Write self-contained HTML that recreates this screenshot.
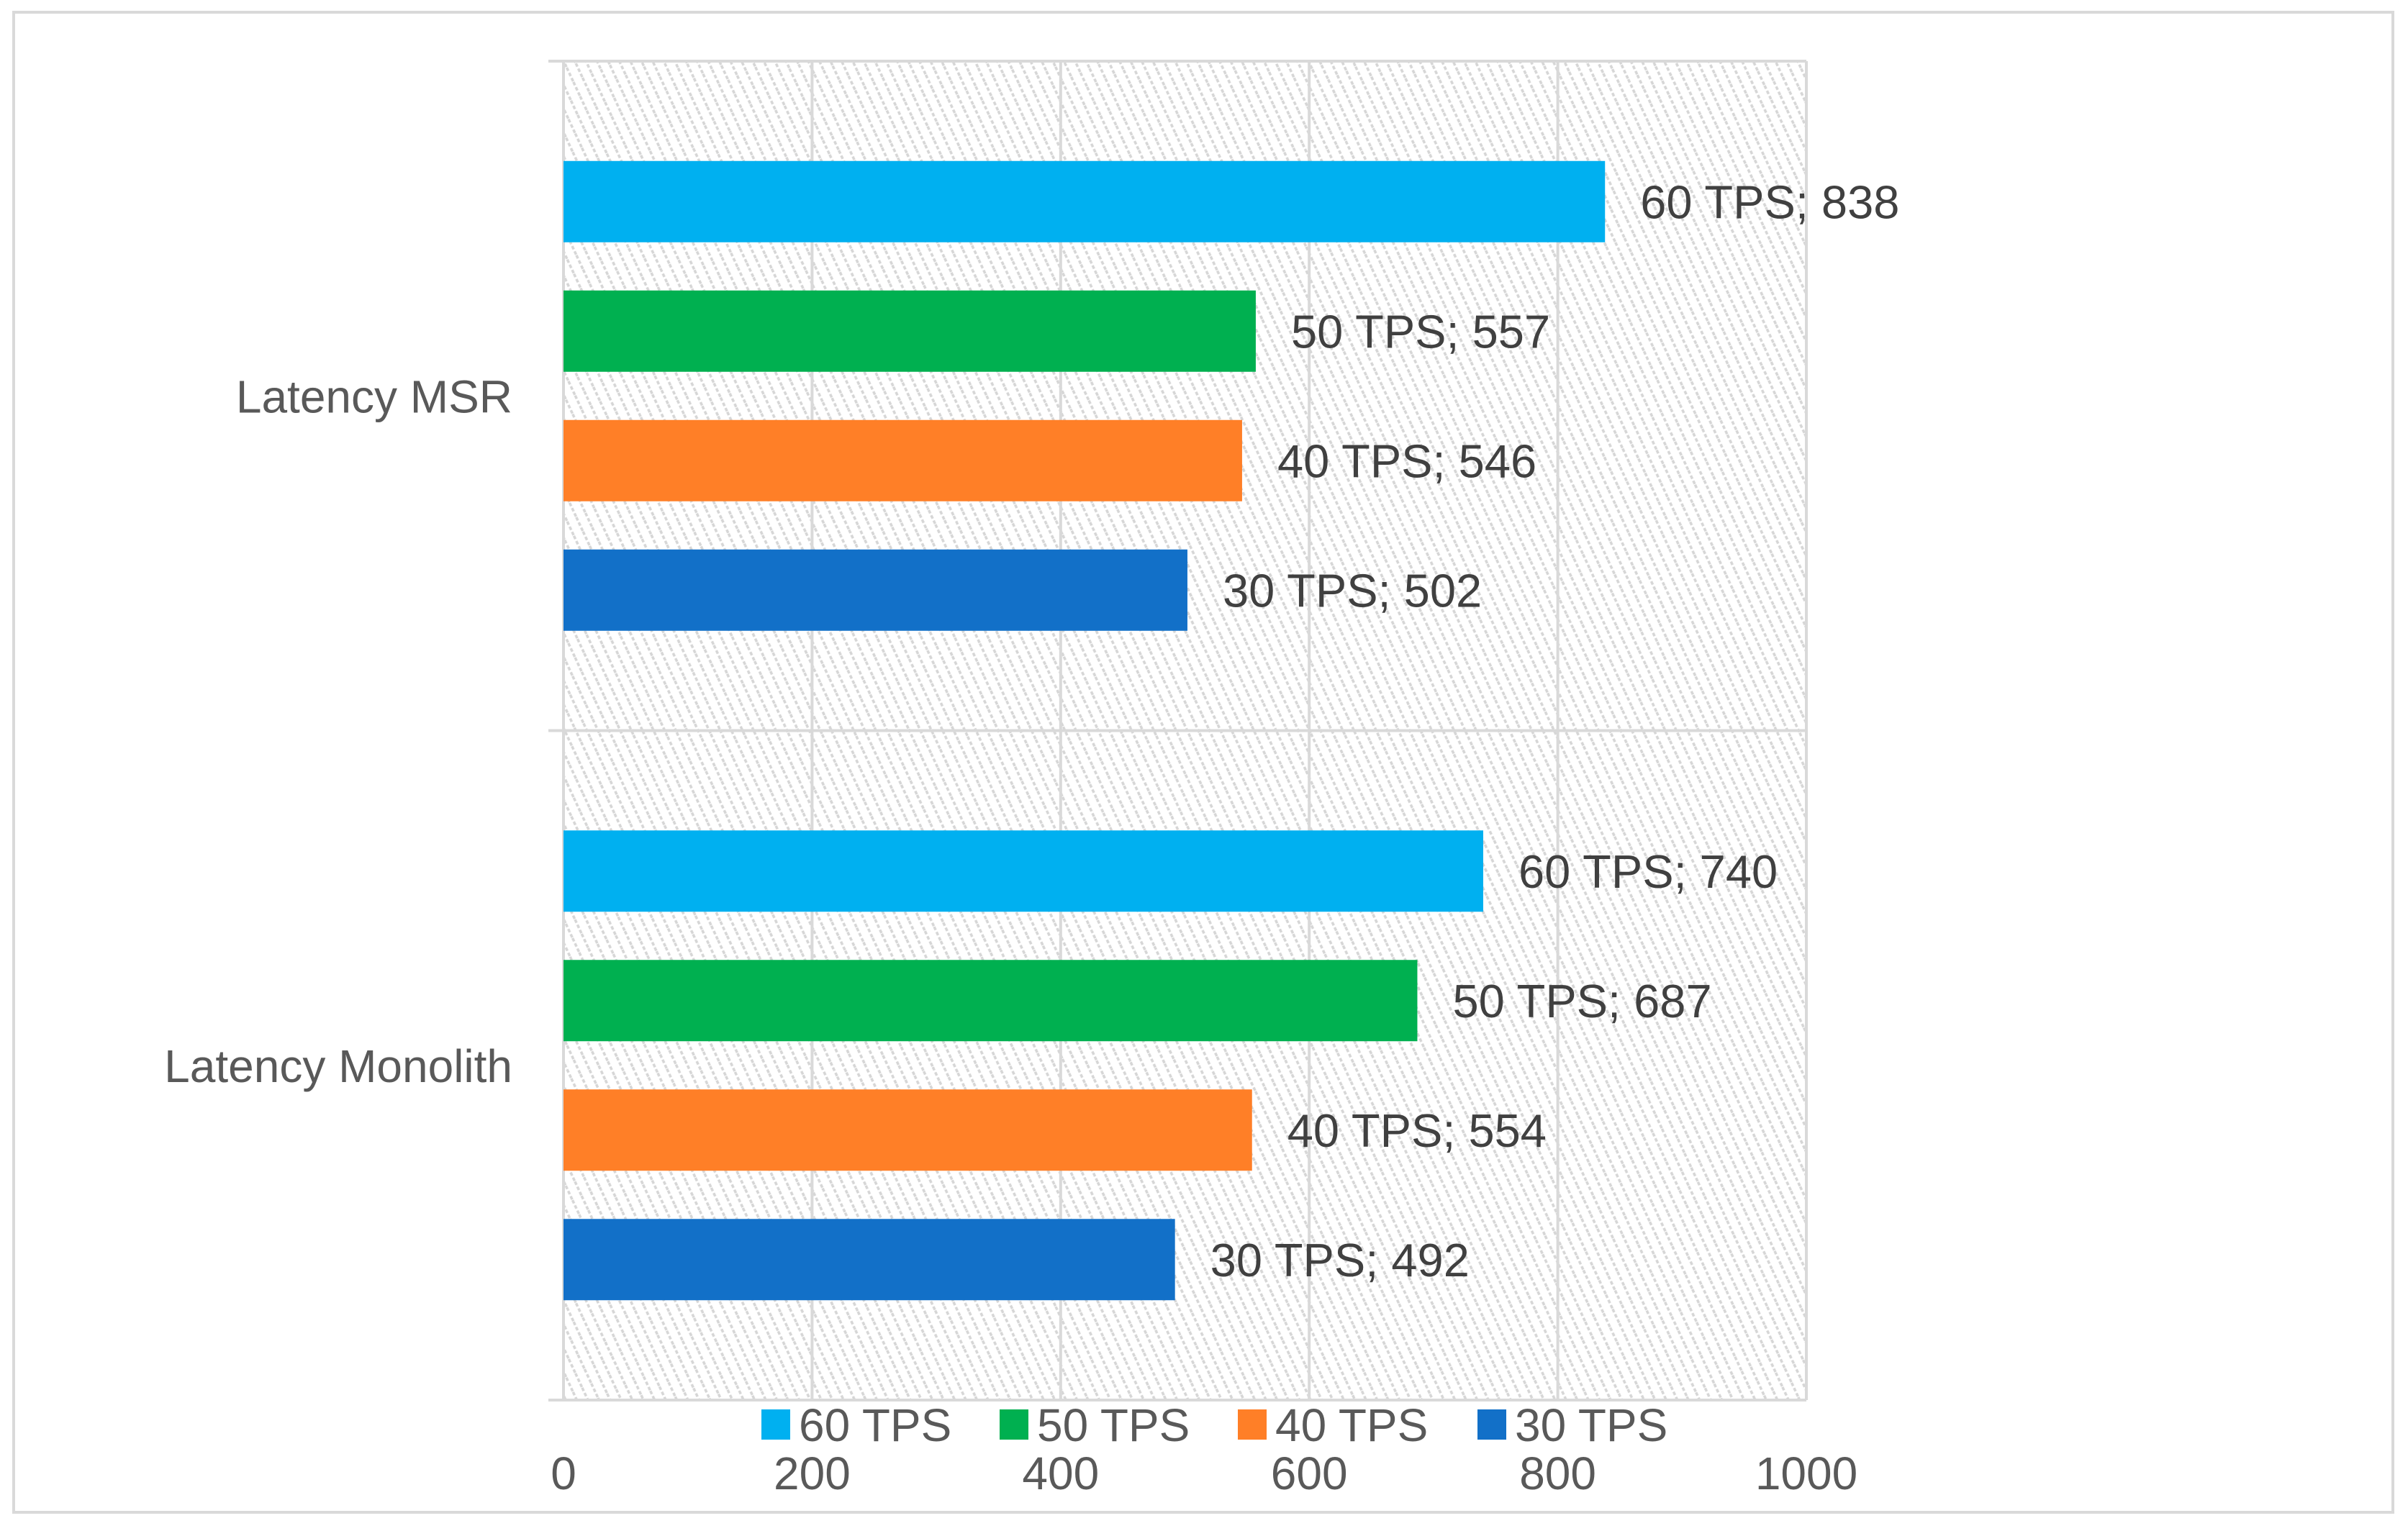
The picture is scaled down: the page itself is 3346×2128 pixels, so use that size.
<!DOCTYPE html>
<html><head><meta charset="utf-8"><style>
html,body{margin:0;padding:0;background:#fff;}
svg{display:block;font-family:"Liberation Sans",sans-serif;}
</style></head><body>
<svg id="chart" width="3346" height="2128" viewBox="0 0 3346 2128" xmlns="http://www.w3.org/2000/svg">
<defs>
<pattern id="hatch" patternUnits="userSpaceOnUse" width="14" height="22" patternTransform="rotate(-25)">
<rect width="14" height="22" fill="#fff"/>
<line x1="2" y1="0" x2="2" y2="22" stroke="#d6d6d6" stroke-width="3.5" stroke-dasharray="5 3"/>
</pattern>
</defs>
<rect x="19" y="17" width="3306" height="2085" fill="#fff" stroke="#d9d9d9" stroke-width="4"/>
<g id="plot"></g>
</svg>
<script>
const categories = ["Latency MSR", "Latency Monolith"];
const seriesNames = ["60 TPS", "50 TPS", "40 TPS", "30 TPS"];
const msrValues = [838, 557, 546, 502];
const monolithValues = [740, 687, 554, 492];
const xTicks = [0, 200, 400, 600, 800, 1000];
const colors = ["#00B0F0", "#00B050", "#FF7F27", "#1270C8"];

const NS = "http://www.w3.org/2000/svg";
const plot = document.getElementById("plot");
const L = 783, R = 2510, T = 85, B = 1946;
const xMax = 1000;
function xs(v){ return L + (R - L) * v / xMax; }
const band = (B - T) / categories.length;
function mk(tag, attrs, parent){
  const e = document.createElementNS(NS, tag);
  for (const k in attrs) e.setAttribute(k, attrs[k]);
  (parent || plot).appendChild(e);
  return e;
}
const bg = mk("rect", {x:L, y:T, width:R-L, height:B-T, fill:"url(#hatch)"});


xTicks.forEach(t => {
  const g = mk("line", {x1:xs(t), x2:xs(t), y1:T, y2:B, stroke:"#d9d9d9", "stroke-width":4});
  
  
  const tl = mk("text", {x:xs(t), y:2070, "text-anchor":"middle", "font-size":64, fill:"#595959"});
  tl.textContent = t;
  
  
});
for (let i = 0; i <= categories.length; i++) {
  const y = T + band * i;
  const hl = mk("line", {x1:762, x2:R, y1:y, y2:y, stroke:"#d9d9d9", "stroke-width":4});
  
  
}
const allVals = [msrValues, monolithValues];
const barH = 113, step = 180;
categories.forEach((c, ci) => {
  const top = T + band * ci, mid = top + band / 2;
  const cl = mk("text", {x:712, y:mid + 23, "text-anchor":"end", "font-size":64, fill:"#595959"});
  cl.textContent = c;
  
  
  allVals[ci].forEach((v, si) => {
    const cy = mid + (si - 1.5) * step;
    const r = mk("rect", {x:L, y:cy - barH/2, width:xs(v) - L, height:barH, fill:colors[si]});
    
    
    const lb = mk("text", {x:xs(v) + 49, y:cy + 23, "font-size":65, fill:"#404040"});
    lb.textContent = seriesNames[si] + "; " + v;
    
    
  });
});
const legendX = [1058, 1389, 1720, 2053];
seriesNames.forEach((s, i) => {
  const sw = mk("rect", {x:legendX[i], y:1959, width:40, height:42, fill:colors[i]});
  
  
  const lt = mk("text", {x:legendX[i] + 52, y:2003, "font-size":64, fill:"#595959"});
  lt.textContent = s;
  
  
});
</script>
</body></html>
